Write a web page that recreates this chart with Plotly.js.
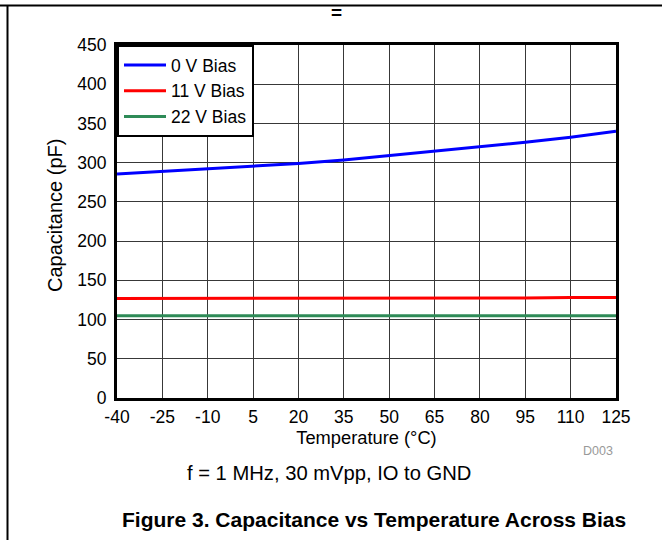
<!DOCTYPE html>
<html>
<head>
<meta charset="utf-8">
<script src="https://cdn.plot.ly/plotly-3.0.1.min.js"></script>
<style>
  html, body { margin: 0; padding: 0; background: #fff; }
  #chart { width: 671px; height: 540px; }
</style>
</head>
<body>
<div id="chart"></div>
<script>
// Data
const temperature = [-40, -25, -10, 5, 20, 35, 50, 65, 80, 95, 110, 125];
const bias0V  = [285.5, 289, 292, 295.5, 299, 303.5, 309, 315, 320, 326, 332.5, 340];
const bias11V = [127, 127, 127, 127, 127, 127, 127, 127.5, 127.5, 127.5, 128, 128];
const bias22V = [105, 105, 105, 105, 105, 105, 105, 105, 105, 105, 105, 105];
const seriesNames = ['0 V Bias', '11 V Bias', '22 V Bias'];
const xTicks = [-40, -25, -10, 5, 20, 35, 50, 65, 80, 95, 110, 125];
const yTicks = [0, 50, 100, 150, 200, 250, 300, 350, 400, 450];

const FONT = 'Arial, "Liberation Sans", sans-serif';
const W = 671, H = 540;
const M = { l: 117, r: 55, t: 45, b: 142 };
const PW = W - M.l - M.r, PH = H - M.t - M.b;
const px = x => (x - M.l) / PW;
const py = y => (H - M.b - y) / PH;

const traces = [
  { x: temperature, y: bias0V,  name: seriesNames[0], mode: 'lines', line: { color: '#0000ff', width: 3 } },
  { x: temperature, y: bias11V, name: seriesNames[1], mode: 'lines', line: { color: '#ff0000', width: 3 } },
  { x: temperature, y: bias22V, name: seriesNames[2], mode: 'lines', line: { color: '#2e8b57', width: 3 } }
];

const layout = {
  width: W, height: H,
  margin: M,
  paper_bgcolor: '#ffffff', plot_bgcolor: '#ffffff',
  font: { family: FONT, color: '#000', size: 17 },
  showlegend: true,
  legend: {
    x: 0, y: 1, xanchor: 'left', yanchor: 'top',
    bgcolor: '#ffffff', bordercolor: '#000', borderwidth: 2,
    font: { family: FONT, size: 17.5, color: '#000' },
    itemwidth: 42,
    tracegroupgap: 0
  },
  xaxis: {
    range: [-40, 125], tickmode: 'array', tickvals: xTicks, ticktext: xTicks.map(String),
    showgrid: true, gridcolor: '#383838', gridwidth: 1, zeroline: false,
    showline: true, linecolor: '#000', linewidth: 3, mirror: true,
    ticks: '', tickfont: { family: FONT, size: 17.5, color: '#000' },
    ticklabelstandoff: 1,
    title: { text: 'Temperature (°C)', font: { family: FONT, size: 18.3, color: '#000' }, standoff: 5 },
    fixedrange: true
  },
  yaxis: {
    range: [0, 450], tickmode: 'array', tickvals: yTicks, ticktext: yTicks.map(String),
    showgrid: true, gridcolor: '#383838', gridwidth: 1, zeroline: false,
    showline: true, linecolor: '#000', linewidth: 3, mirror: true,
    ticks: '', tickfont: { family: FONT, size: 17.5, color: '#000' },
    ticklabelstandoff: 4,
    fixedrange: true
  },
  annotations: [
    { text: 'Capacitance (pF)', xref: 'paper', yref: 'paper', x: px(55), y: py(216), showarrow: false,
      textangle: -90, xanchor: 'center', yanchor: 'middle', font: { family: FONT, size: 20, color: '#000' } },
    { text: '<b>=</b>', xref: 'paper', yref: 'paper', x: px(336), y: py(13), showarrow: false,
      xanchor: 'center', yanchor: 'middle', font: { family: FONT, size: 19, color: '#000' } },
    { text: 'D003', xref: 'paper', yref: 'paper', x: px(598), y: py(451), showarrow: false,
      xanchor: 'center', yanchor: 'middle', font: { family: FONT, size: 12.5, color: '#999999' } },
    { text: 'f = 1 MHz, 30 mVpp, IO to GND', xref: 'paper', yref: 'paper', x: px(328.5), y: py(472.5), showarrow: false,
      xanchor: 'center', yanchor: 'middle', font: { family: FONT, size: 20.2, color: '#000' } },
    { text: '<b>Figure 3. Capacitance vs Temperature Across Bias</b>', xref: 'paper', yref: 'paper', x: px(374), y: py(519.5), showarrow: false,
      xanchor: 'center', yanchor: 'middle', font: { family: FONT, size: 21, color: '#000' } }
  ],
  shapes: [
    { type: 'line', xref: 'paper', yref: 'paper', x0: px(0), x1: px(662), y0: py(5.5), y1: py(5.5),
      line: { color: '#000', width: 2 } },
    { type: 'line', xref: 'paper', yref: 'paper', x0: px(7.5), x1: px(7.5), y0: py(5.5), y1: py(541),
      line: { color: '#000', width: 2 } }
  ]
};

Plotly.newPlot('chart', traces, layout, { displayModeBar: false, staticPlot: true });
</script>
</body>
</html>
